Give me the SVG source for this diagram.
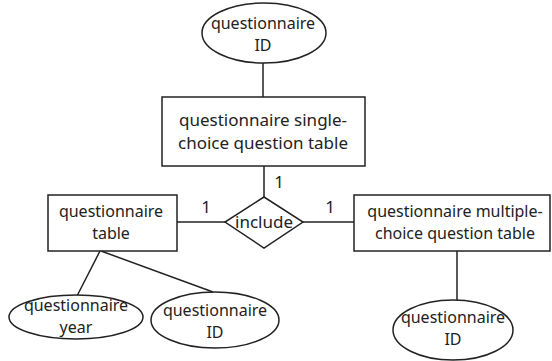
<svg xmlns="http://www.w3.org/2000/svg" width="552" height="361" viewBox="0 0 552 361">
<style>
.s{fill:#fff;stroke:#222;stroke-width:1.5}
.l{stroke:#222;stroke-width:1.5;fill:none}
text{font-family:"Noto Sans","Open Sans",sans-serif;font-size:16px;fill:#222;text-anchor:middle}
.b{font-size:17px}
</style>
<rect width="552" height="361" fill="#fff"/>
<g id="connectors">
<line class="l" x1="263" y1="63" x2="263" y2="97"/>
<line class="l" x1="264" y1="166" x2="264" y2="197"/>
<line class="l" x1="177" y1="222" x2="225" y2="222"/>
<line class="l" x1="303" y1="222" x2="354" y2="222"/>
<line class="l" x1="100" y1="251" x2="77" y2="296"/>
<line class="l" x1="101" y1="251" x2="213" y2="292"/>
<line class="l" x1="457" y1="251" x2="457" y2="300"/>
<text class="b" x="279" y="188">1</text>
<text class="b" x="206" y="213">1</text>
<text class="b" x="330" y="213">1</text>
</g>
<g id="attr-top-id">
<ellipse class="s" cx="264" cy="33" rx="62" ry="30"/>
<text x="263" y="29">questionnaire<tspan x="263" dy="22">ID</tspan></text>
</g>
<g id="single-choice-table">
<rect class="s" x="162" y="97" width="203" height="69"/>
<text class="b" x="263" y="126">questionnaire single-<tspan x="263" dy="23">choice question table</tspan></text>
</g>
<g id="include">
<polygon class="s" points="264,197 303,222 264,248 225,222"/>
<text class="b" x="264" y="228">include</text>
</g>
<g id="questionnaire-table">
<rect class="s" x="48" y="195" width="129" height="56"/>
<text x="111" y="217">questionnaire<tspan x="111" dy="22">table</tspan></text>
</g>
<g id="multiple-choice-table">
<rect class="s" x="354" y="195" width="196" height="56"/>
<text x="455" y="217">questionnaire multiple-<tspan x="455" dy="22">choice question table</tspan></text>
</g>
<g id="attr-year">
<ellipse class="s" cx="76" cy="317" rx="67" ry="22"/>
<text x="76" y="311">questionnaire<tspan x="76" dy="22">year</tspan></text>
</g>
<g id="attr-left-id">
<ellipse class="s" cx="215" cy="320" rx="64" ry="28"/>
<text x="215" y="316">questionnaire<tspan x="215" dy="22">ID</tspan></text>
</g>
<g id="attr-right-id">
<ellipse class="s" cx="453" cy="330" rx="60" ry="30"/>
<text x="453" y="323">questionnaire<tspan x="453" dy="22">ID</tspan></text>
</g>
</svg>
